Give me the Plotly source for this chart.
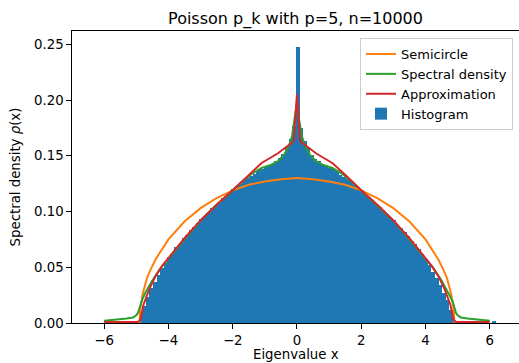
import numpy as np
import plotly.graph_objects as go

# ---- data ----
hist_start = -4.864   # centre of first bin
hist_width = 0.111
hist_vals = [
    0.006, 0.015, 0.023, 0.031, 0.037, 0.043, 0.049, 0.054, 0.059, 0.063,
    0.068, 0.071, 0.076, 0.079, 0.083, 0.086, 0.090, 0.093, 0.096, 0.099,
    0.103, 0.105, 0.108, 0.112, 0.114, 0.117, 0.120, 0.123, 0.125, 0.128,
    0.130, 0.132, 0.134, 0.137, 0.138, 0.140, 0.142, 0.143, 0.145, 0.148,
    0.152, 0.158, 0.165, 0.177,
    0.248,
    0.175, 0.163, 0.157, 0.151, 0.147, 0.145, 0.143, 0.141, 0.139, 0.138,
    0.136, 0.133, 0.131, 0.129, 0.127, 0.124, 0.121, 0.119, 0.116, 0.113,
    0.110, 0.107, 0.104, 0.101, 0.098, 0.095, 0.092, 0.088, 0.085, 0.082,
    0.078, 0.074, 0.071, 0.066, 0.062, 0.057, 0.052, 0.046, 0.040, 0.034,
    0.027, 0.021, 0.012, 0.002,
    0, 0, 0, 0, 0, 0, 0, 0, 0, 0, 0.0012,
]

semi_x = [-4.9, -4.88, -4.8, -4.67, -4.57, -4.4, -4.0, -3.5, -3.0, -2.5, -2.0, -1.5, -1.0, -0.5, 0.0,
          0.5, 1.0, 1.5, 2.0, 2.5, 3.0, 3.5, 4.0, 4.4, 4.57, 4.67, 4.8, 4.88, 4.9]
semi_y = [0.0, 0.012, 0.026, 0.040, 0.047, 0.057, 0.075, 0.091, 0.103, 0.112, 0.119, 0.124, 0.127, 0.129, 0.130,
          0.129, 0.127, 0.124, 0.119, 0.112, 0.103, 0.091, 0.075, 0.057, 0.047, 0.040, 0.026, 0.012, 0.0]

spec_x = [-6.0, -5.6, -5.3, -5.1, -5.0, -4.95, -4.9, -4.85, -4.8, -4.7, -4.5, -4.25, -4.0, -3.5, -3.0, -2.5,
          -2.0, -1.7, -1.4, -1.1, -0.8, -0.6, -0.4, -0.25, -0.15, -0.07, 0.0,
          0.07, 0.15, 0.25, 0.4, 0.6, 0.8, 1.1, 1.4, 1.7, 2.0, 2.5, 3.0, 3.5, 4.0, 4.25, 4.5, 4.7, 4.8,
          4.85, 4.9, 4.95, 5.0, 5.1, 5.3, 5.6, 6.0]
spec_y = [0.002, 0.003, 0.004, 0.005, 0.007, 0.009, 0.014, 0.019, 0.022, 0.028, 0.038, 0.049, 0.058, 0.075,
          0.092, 0.106, 0.119, 0.127, 0.134, 0.139, 0.142, 0.145, 0.151, 0.159, 0.168, 0.182, 0.198,
          0.182, 0.168, 0.159, 0.151, 0.145, 0.142, 0.139, 0.134, 0.127, 0.119, 0.106, 0.092, 0.075, 0.058,
          0.049, 0.038, 0.028, 0.022, 0.019, 0.014, 0.009, 0.007, 0.005, 0.004, 0.003, 0.002]

approx_x = [-6.0, -4.95, -4.87, -4.78, -4.6, -4.4, -4.2, -4.0, -3.5, -3.0, -2.5, -2.0, -1.5, -1.1, -0.6, -0.1, 0.0,
            0.1, 0.6, 1.1, 1.5, 2.0, 2.5, 3.0, 3.5, 4.0, 4.2, 4.4, 4.6, 4.78, 4.87, 4.95, 6.0]
approx_y = [0.001, 0.001, 0.003, 0.016, 0.030, 0.042, 0.051, 0.058, 0.076, 0.092, 0.106, 0.119, 0.133, 0.1435,
            0.152, 0.163, 0.205,
            0.163, 0.152, 0.1435, 0.133, 0.119, 0.106, 0.092, 0.076, 0.058, 0.051, 0.042, 0.030, 0.016, 0.003,
            0.001, 0.001]

x_ticks = [-6, -4, -2, 0, 2, 4, 6]
y_ticks = [0.00, 0.05, 0.10, 0.15, 0.20, 0.25]

hist_x = hist_start + hist_width * np.arange(len(hist_vals))

FONT = "DejaVu Sans"
fig = go.Figure()
fig.add_trace(go.Scatter(x=semi_x, y=semi_y, mode="lines", name="Semicircle",
                         line=dict(color="#ff7f0e", width=2)))
fig.add_trace(go.Scatter(x=spec_x, y=spec_y, mode="lines", name="Spectral density",
                         line=dict(color="#2ca02c", width=2)))
fig.add_trace(go.Scatter(x=approx_x, y=approx_y, mode="lines", name="Approximation",
                         line=dict(color="#d62728", width=2)))
fig.add_trace(go.Bar(x=hist_x, y=hist_vals, width=hist_width * 1.08, name="Histogram",
                     marker=dict(color="#1f77b4", line=dict(width=0))))

fig.update_layout(
    width=519, height=363,
    margin=dict(l=72, r=0, t=31, b=40),
    paper_bgcolor="white", plot_bgcolor="white",
    font=dict(family=FONT, size=13.3, color="#000"),
    title=dict(text="Poisson p_k with p=5, n=10000", x=0.5, xref="paper", xanchor="center",
               y=1 - 18 / 363, yref="container", yanchor="middle",
               font=dict(family=FONT, size=16, color="#000")),
    bargap=0,
    showlegend=True,
    legend=dict(x=0.9866, xanchor="right", y=0.976, yanchor="top",
                bgcolor="rgba(255,255,255,0.8)", bordercolor="#cccccc", borderwidth=1,
                font=dict(family=FONT, size=13), traceorder="normal",
                tracegroupgap=0, itemwidth=30),
    annotations=[dict(text="Eigenvalue x", xref="paper", yref="paper", x=0.5, y=-0.108,
                      xanchor="center", yanchor="middle", showarrow=False,
                      font=dict(family=FONT, size=13.3, color="#000"))],
)
fig.update_xaxes(range=[-7.0, 6.91], tickvals=x_ticks, ticks="outside", ticklen=4.7, tickwidth=1,
                 tickcolor="#000", showline=True, linecolor="#000", linewidth=1, mirror=True,
                 showgrid=False, zeroline=False, automargin=False)
fig.update_yaxes(range=[0, 0.2619], tickvals=y_ticks, tickformat=".2f", ticks="outside", ticklen=4.7,
                 tickwidth=1, tickcolor="#000", showline=True, linecolor="#000", linewidth=1, mirror=True,
                 showgrid=False, zeroline=False, automargin=False,
                 title=dict(text="Spectral density <i>ρ</i>(x)", standoff=10, font=dict(size=13.3)))

fig.write_html("out.html", config={"displayModeBar": False},
               post_script="document.body.style.margin='0';")
